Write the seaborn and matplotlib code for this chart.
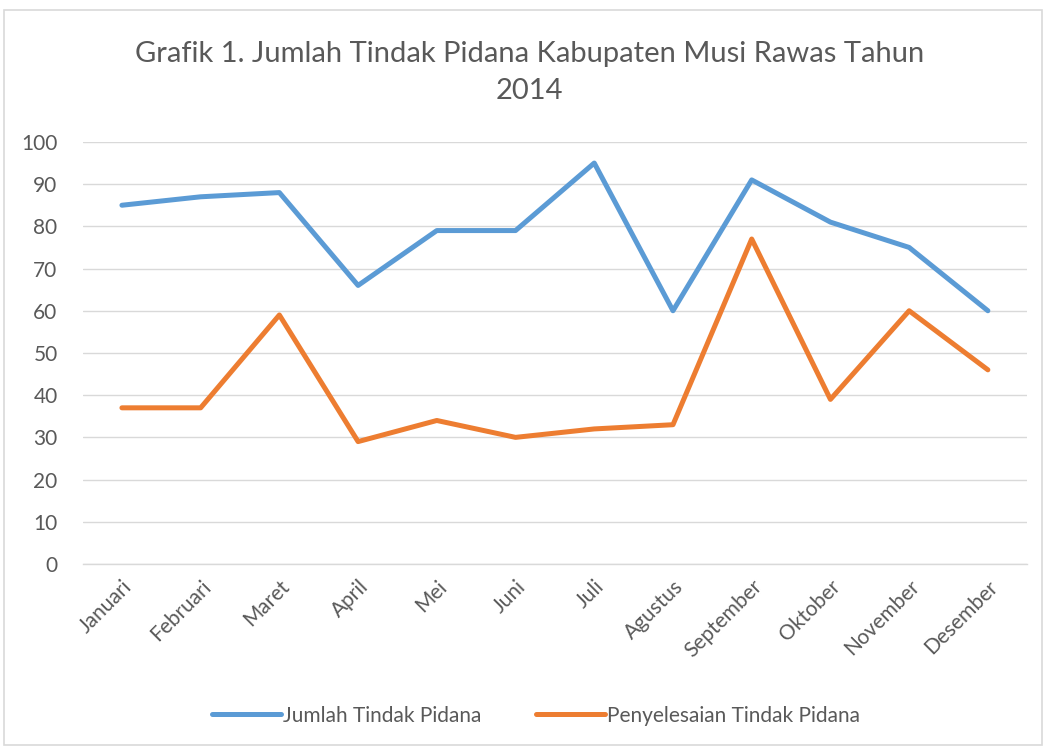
import matplotlib
matplotlib.use("Agg")
import matplotlib.pyplot as plt
import seaborn as sns
import pandas as pd
from matplotlib.patches import Rectangle
from matplotlib.lines import Line2D

months = ["Januari", "Februari", "Maret", "April", "Mei", "Juni", "Juli",
          "Agustus", "September", "Oktober", "November", "Desember"]
jumlah = [85, 87, 88, 66, 79, 79, 95, 60, 91, 81, 75, 60]
penyelesaian = [37, 37, 59, 29, 34, 30, 32, 33, 77, 39, 60, 46]
series_names = ["Jumlah Tindak Pidana", "Penyelesaian Tindak Pidana"]
yticks = [0, 10, 20, 30, 40, 50, 60, 70, 80, 90, 100]
title = "Grafik 1. Jumlah Tindak Pidana Kabupaten Musi Rawas Tahun\n2014"

sns.set_theme(style="white")
plt.rcParams['font.family'] = ['Lato', 'DejaVu Sans']
txt = "#595959"
grid = "#D9D9D9"

df = pd.DataFrame({
    "Bulan": months * 2,
    "Nilai": jumlah + penyelesaian,
    "Seri": [series_names[0]] * 12 + [series_names[1]] * 12,
})
df["x"] = list(range(12)) * 2

fig = plt.figure(figsize=(10.45, 7.47), dpi=100)
ax = fig.add_axes([0.079, 0.245, 0.904, 0.565])

sns.lineplot(data=df, x="x", y="Nilai", hue="Seri", ax=ax,
             palette=["#5B9BD5", "#ED7D31"], linewidth=3.6, legend=False,
             solid_joinstyle="round", solid_capstyle="round")

ax.set_xlim(-0.5, 11.5)
ax.set_ylim(0, 100)
ax.set_yticks(yticks)
ax.set_yticklabels([str(v) for v in yticks], fontsize=15, color=txt)
ax.set_xticks(range(12))
ax.set_xticklabels(months, rotation=45, ha="right", rotation_mode="anchor",
                   fontsize=15, color=txt)
ax.tick_params(axis="y", length=0, pad=18)
ax.tick_params(axis="x", length=0, pad=9)
ax.set_xlabel("")
ax.set_ylabel("")
ax.grid(axis="y", color=grid, linewidth=1.0)
ax.set_axisbelow(True)
for s in ["top", "right", "left"]:
    ax.spines[s].set_visible(False)
ax.spines["bottom"].set_color(grid)
ax.spines["bottom"].set_linewidth(1.0)

fig.text(0.507, 0.903, title, ha="center", va="center", fontsize=21,
         color=txt, linespacing=1.55)

handles = [Line2D([0], [0], color="#5B9BD5", lw=3.6, solid_capstyle="round"),
           Line2D([0], [0], color="#ED7D31", lw=3.6, solid_capstyle="round")]
fig.legend(handles, series_names, loc="center", bbox_to_anchor=(0.513, 0.042),
           ncol=2, frameon=False, fontsize=15, labelcolor=txt,
           handlelength=3.3, handletextpad=0.1, columnspacing=2.6)

fig.patches.append(Rectangle((0.004, 0.003), 0.993, 0.983, transform=fig.transFigure,
                             fill=False, edgecolor=grid, linewidth=1.2))

fig.savefig("out.png", dpi=100, facecolor="white")
